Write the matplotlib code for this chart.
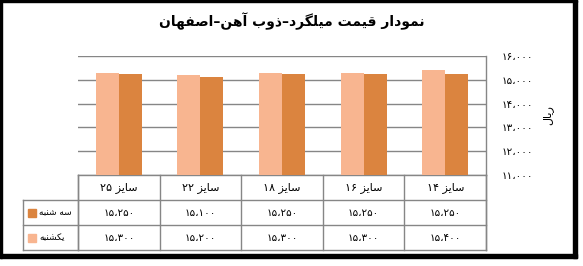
import matplotlib
matplotlib.use("Agg")
import matplotlib.pyplot as plt
import matplotlib.transforms as mtransforms
from matplotlib.patches import Rectangle

plt.rcParams['font.family'] = ['DejaVu Sans']

# data (Persian labels, right-to-left order: first item is drawn at the right)
categories = ["سایز ۱۴", "سایز ۱۶", "سایز ۱۸", "سایز ۲۲", "سایز ۲۵"]
series_names = ["سه شنبه", "یکشنبه"]
se_shanbe = [15250, 15250, 15250, 15100, 15250]
yekshanbe = [15400, 15300, 15300, 15200, 15300]
y_ticks = [11000, 12000, 13000, 14000, 15000, 16000]
title = "نمودار قیمت میلگرد–ذوب آهن–اصفهان"
y_label = "ریال"

dark = "#DB843F"
light = "#F8B590"
grid_c = "#868686"

# --- tiny arabic/persian shaper (matplotlib has no bidi/shaping) ---
# char: (isolated, final, initial, medial)
FORMS = {
    'ا': ('\uFE8D', '\uFE8E', None, None),
    'آ': ('\uFE81', '\uFE82', None, None),
    'ب': ('\uFE8F', '\uFE90', '\uFE91', '\uFE92'),
    'ت': ('\uFE95', '\uFE96', '\uFE97', '\uFE98'),
    'د': ('\uFEA9', '\uFEAA', None, None),
    'ذ': ('\uFEAB', '\uFEAC', None, None),
    'ر': ('\uFEAD', '\uFEAE', None, None),
    'ز': ('\uFEAF', '\uFEB0', None, None),
    'س': ('\uFEB1', '\uFEB2', '\uFEB3', '\uFEB4'),
    'ش': ('\uFEB5', '\uFEB6', '\uFEB7', '\uFEB8'),
    'ص': ('\uFEB9', '\uFEBA', '\uFEBB', '\uFEBC'),
    'ف': ('\uFED1', '\uFED2', '\uFED3', '\uFED4'),
    'ق': ('\uFED5', '\uFED6', '\uFED7', '\uFED8'),
    'ل': ('\uFEDD', '\uFEDE', '\uFEDF', '\uFEE0'),
    'م': ('\uFEE1', '\uFEE2', '\uFEE3', '\uFEE4'),
    'ن': ('\uFEE5', '\uFEE6', '\uFEE7', '\uFEE8'),
    'ه': ('\uFEE9', '\uFEEA', '\uFEEB', '\uFEEC'),
    'و': ('\uFEED', '\uFEEE', None, None),
    'ی': ('\uFBFC', '\uFBFD', '\uFBFE', '\uFBFF'),
    'ک': ('\uFB8E', '\uFB8F', '\uFB90', '\uFB91'),
    'گ': ('\uFB92', '\uFB93', '\uFB94', '\uFB95'),
}
DIGITS = "۰۱۲۳۴۵۶۷۸۹"


def shape(s):
    out = []
    for i, c in enumerate(s):
        if c not in FORMS:
            out.append(c)
            continue
        prev = s[i-1] if i > 0 else ''
        nxt = s[i+1] if i < len(s)-1 else ''
        pj = prev in FORMS and FORMS[prev][2] is not None
        nj = FORMS[c][2] is not None and nxt in FORMS
        f = FORMS[c]
        if pj and nj:
            out.append(f[3])
        elif pj:
            out.append(f[1])
        elif nj:
            out.append(f[2])
        else:
            out.append(f[0])
    s = ''.join(out)
    # visual order: reverse runs, keep numbers left-to-right
    runs = []
    for c in s:
        isnum = c in DIGITS or c in '،'
        if runs and runs[-1][0] == isnum:
            runs[-1][1].append(c)
        else:
            runs.append([isnum, [c]])
    res = ''
    for isnum, chars in reversed(runs):
        res += ''.join(chars) if isnum else ''.join(reversed(chars))
    return res


def fa(n):
    t = "{:,}".format(n).replace(',', '،')
    return ''.join(DIGITS[int(ch)] if ch.isdigit() else ch for ch in t)


W, H = 583, 266
fig = plt.figure(figsize=(W/100, H/100), dpi=100)

# plot area in pixels
L, R, T, B = 78, 486, 56, 175
ax = fig.add_axes([L/W, 1-B/H, (R-L)/W, (B-T)/H])

x = list(range(len(categories)))
bw = 0.282
ax.bar([i + bw/2 for i in x], yekshanbe, width=bw, color=light, zorder=3)
ax.bar([i - bw/2 for i in x], se_shanbe, width=bw, color=dark, zorder=3)

ax.set_xlim(len(categories)-0.5, -0.5)
ax.set_ylim(y_ticks[0], y_ticks[-1])
ax.set_yticks(y_ticks)
ax.set_yticklabels([fa(v) for v in y_ticks], fontsize=7.5)
ax.yaxis.tick_right()
ax.tick_params(axis='y', length=0, pad=11)
ax.set_xticks([])
for v in y_ticks:
    ax.axhline(v, color=grid_c, lw=1, zorder=1)
for s in ['top', 'left', 'bottom']:
    ax.spines[s].set_visible(False)
ax.spines['right'].set_color(grid_c)
ax.spines['right'].set_linewidth(1)

ax.text(1 + 62/(R-L), 0.5, shape(y_label), transform=ax.transAxes,
        rotation=90, ha='center', va='center', fontsize=8)

fig.text(292/W, 1-21/H, shape(title), ha='center', va='center',
         fontsize=10, fontweight='bold')

# data table under the axis
def yf(py):
    return (B - py)/(B - T)

def xf(px):
    return (px - L)/(R - L)

blend = mtransforms.blended_transform_factory(ax.transData, ax.transAxes)
rows_y = [175, 200, 225, 250]
leg_left = 23
kw = dict(color=grid_c, lw=1, clip_on=False, zorder=2)
for py in rows_y[1:]:
    ax.plot([xf(leg_left), 1], [yf(py), yf(py)], transform=ax.transAxes, **kw)
ax.plot([0, 0], [yf(175), yf(250)], transform=ax.transAxes, **kw)
ax.plot([xf(leg_left), xf(leg_left)], [yf(200), yf(250)], transform=ax.transAxes, **kw)
ax.plot([1, 1], [yf(175), yf(250)], transform=ax.transAxes, **kw)
for i in range(len(categories)+1):
    xb = i - 0.5
    ax.plot([xb, xb], [yf(175), yf(250)], transform=blend, **kw)
ax.plot([0, 1], [0, 0], transform=ax.transAxes, **kw)

for i, c in enumerate(categories):
    ax.text(i, yf(188), shape(c), transform=blend, ha='center', va='center', fontsize=8)
    ax.text(i, yf(212.5), fa(se_shanbe[i]), transform=blend, ha='center', va='center', fontsize=7.5)
    ax.text(i, yf(237.5), fa(yekshanbe[i]), transform=blend, ha='center', va='center', fontsize=7.5)

for name, col, py in [(series_names[0], dark, 212.5), (series_names[1], light, 237.5)]:
    ax.add_patch(Rectangle((xf(28), yf(py+4)), 8/(R-L), 8/(B-T), transform=ax.transAxes,
                           color=col, clip_on=False))
    ax.text(xf(39), yf(py), shape(name), transform=ax.transAxes, ha='left', va='center',
            fontsize=6.5)

# outer black frame
def frame(x0, y0, x1, y1):
    fig.patches.append(Rectangle((x0/W, 1-y1/H), (x1-x0)/W, (y1-y0)/H,
                                 transform=fig.transFigure, color='black', zorder=10))

frame(0, 0, 577, 2)
frame(0, 0, 2, 258)
frame(573, 0, 577, 258)
frame(0, 254, 577, 258)

fig.savefig("out.png", dpi=100)
